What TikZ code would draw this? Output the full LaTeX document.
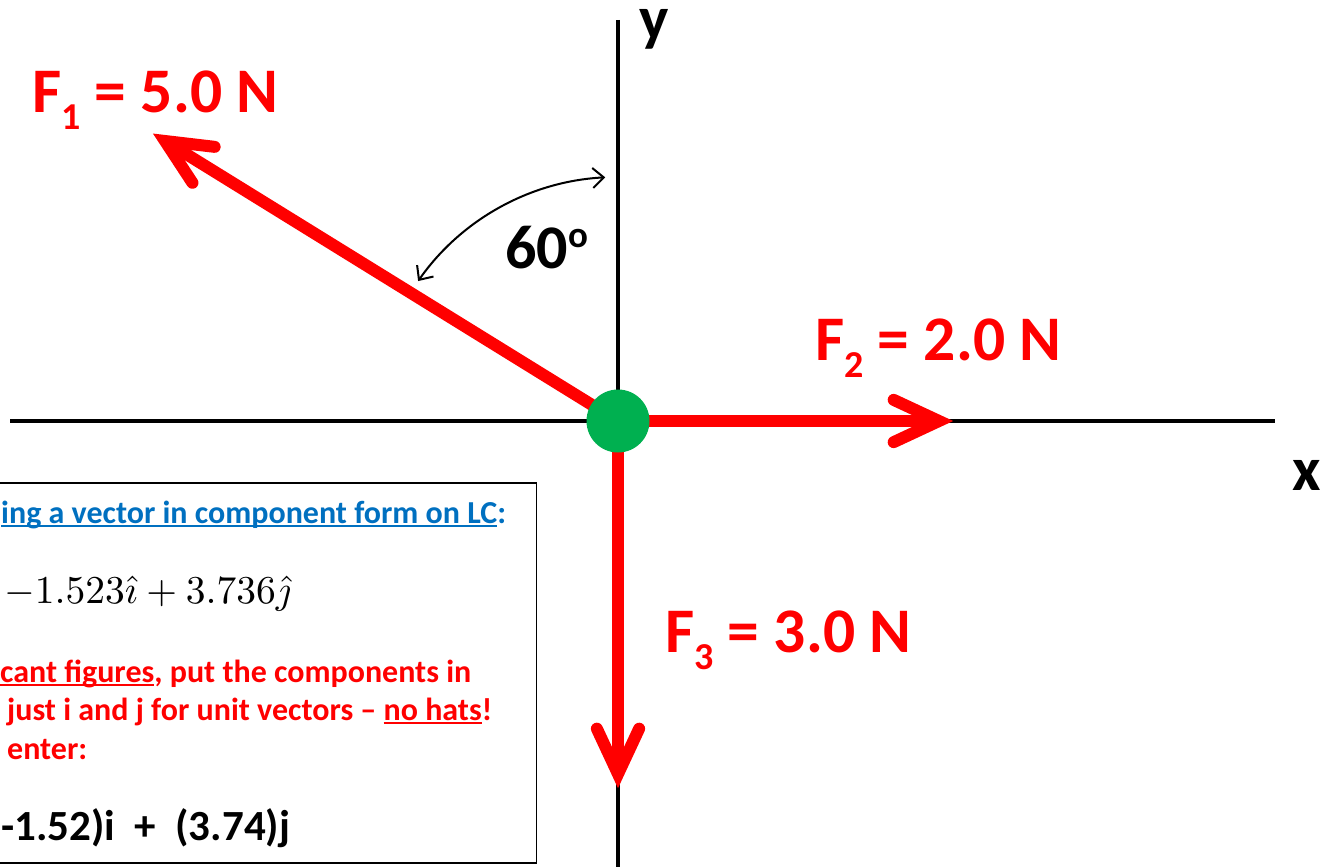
\documentclass[tikz,border=0pt]{standalone}
\usepackage{fontspec}
\usepackage{graphicx}
\setmainfont{Carlito}
\usetikzlibrary{calc,arrows.meta}
\definecolor{pred}{RGB}{255,0,0}
\definecolor{pgreen}{RGB}{0,176,80}
\definecolor{pblue}{RGB}{0,112,192}
\newcommand\myul[1]{\setbox0=\hbox{#1}\rlap{\rule[-0.13em]{\wd0}{0.07em}}\box0}
\begin{document}
\begin{tikzpicture}[x=1pt,y=-1pt,
  axisline/.style={line width=3.5pt},
  shaft/.style={line width=12pt, draw=pred},
  head/.style={line width=12pt, draw=pred, line cap=round, line join=miter},
  flabel/.style={text=pred, font=\bfseries\fontsize{63.5}{70}\selectfont, inner sep=0pt, anchor=base west},
  biglabel/.style={font=\bfseries\fontsize{62}{70}\selectfont, inner sep=0pt},
  boxtext/.style={font=\bfseries\fontsize{32}{38}\selectfont, inner sep=0pt, anchor=base west},
  anglearrow/.style={line width=2pt, {Straight Barb[length=11pt,width=20pt]}-{Straight Barb[length=11pt,width=20pt]}}
]
\useasboundingbox (0,0) rectangle (1326,867);
\clip (0,0) rectangle (1326,867);
\fill[white] (0,0) rectangle (1326,867);
% axes
\coordinate (xl) at (10,421); \coordinate (xr) at (1275,421);
\coordinate (yt) at (618,20); \coordinate (yb) at (618,870);
\draw[axisline] (xl) -- (xr);
\draw[axisline] (yt) -- (yb);
\node[biglabel, anchor=base] (xlab) at (1307,490) {x};
\node[biglabel, anchor=base] (ylab) at (654,40) {y};
% forces
\coordinate (O) at (618,421);
\coordinate (V1) at (165,141);
\coordinate (V2) at (939,421);
\coordinate (V3) at (618,774);
\draw[shaft] (O) -- (V1);
\draw[shaft] (O) -- (V2);
\draw[shaft] (O) -- (V3);
\draw[head] ($(V1)!50pt!25:(O)$) coordinate (a11) -- (V1) -- ($(V1)!50pt!-25:(O)$) coordinate (a12);
\draw[head] ($(V2)!50pt!25:(O)$) coordinate (a21) -- (V2) -- ($(V2)!50pt!-25:(O)$) coordinate (a22);
\draw[head] ($(V3)!50pt!25:(O)$) coordinate (a31) -- (V3) -- ($(V3)!50pt!-25:(O)$) coordinate (a32);
\node[circle, fill=pgreen, minimum size=63pt, inner sep=0pt] (dot) at (O) {};
% angle
\coordinate (arcstart) at ($(O)+(215:244)$);
\draw[anglearrow] (arcstart) arc[start angle=215, end angle=267, radius=244];
\node[biglabel, anchor=base west] (ang) at (505,268) {60\raisebox{21pt}{\fontsize{37}{0}\selectfont o}};
% force labels
\node[flabel] (f1) at (32,113) {F\raisebox{-17pt}{\fontsize{38}{0}\selectfont 1} = 5.0 N};
\node[flabel] (f2) at (815,360) {F\raisebox{-17pt}{\fontsize{38}{0}\selectfont 2} = 2.0 N};
\node[flabel] (f3) at (665,652) {F\raisebox{-17pt}{\fontsize{38}{0}\selectfont 3} = 3.0 N};
% info box
\node[draw, line width=1.5pt, anchor=north east, minimum width=560pt, minimum height=380pt, inner sep=0pt] (box) at (537,482) {};
\node[boxtext, text=pblue] (t1) at (1,523) {\myul{ing a vector in component form on LC}:};
\node[inner sep=0pt, anchor=base west] (t2) at (4,603) {\scalebox{3.95}{$-1.523\hat{\imath}+3.736\hat{\jmath}$}};
\node[boxtext, text=pred] (t3) at (0,682) {\myul{cant figures}, put the components in};
\node[boxtext, text=pred] (t4) at (7,720) {just i and j for unit vectors -- \myul{no hats}!};
\node[boxtext, text=pred] (t5) at (7,759) {enter:};
\node[font=\bfseries\fontsize{43}{50}\selectfont, inner sep=0pt, anchor=base west] (t6) at (1,840) {-1.52)i~~+~~(3.74)j};
\end{tikzpicture}
\end{document}
